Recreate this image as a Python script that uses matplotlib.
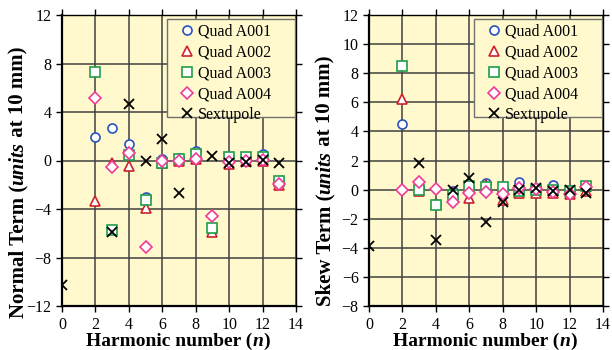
import numpy as np
import matplotlib
matplotlib.use("Agg")
import matplotlib.pyplot as plt
from matplotlib.patches import Rectangle

plt.rcParams['font.family'] = ['Liberation Serif', 'DejaVu Serif']

# harmonic numbers
n_quad = [2, 3, 4, 5, 6, 7, 8, 9, 10, 11, 12, 13]
n_sext = [0, 3, 4, 5, 6, 7, 9, 10, 11, 12, 13]
n_sext_skew = [0, 3, 4, 5, 6, 7, 8, 9, 10, 11, 12, 13]

# normal terms (units at 10 mm)
norm_a001 = [1.9, 2.7, 1.35, -3.0, 0.1, 0.2, 0.8, -5.7, 0.2, 0.2, 0.55, -1.8]
norm_a002 = [-3.3, -0.2, -0.45, -3.9, -0.2, 0.0, 0.1, -5.9, -0.3, 0.0, 0.0, -2.0]
norm_a003 = [7.3, -5.7, 0.45, -3.25, -0.2, 0.1, 0.5, -5.6, 0.25, 0.3, 0.3, -1.7]
norm_a004 = [5.15, -0.5, 0.6, -7.1, -0.08, 0.0, 0.15, -4.6, -0.1, 0.0, 0.05, -1.9]
norm_sext = [-10.3, -5.9, 4.65, 0.0, 1.75, -2.7, 0.4, -0.2, -0.1, 0.05, -0.2]

# skew terms (units at 10 mm)
skew_a001 = [4.5, 0.1, -1.0, -0.1, 0.1, 0.45, 0.1, 0.5, 0.1, 0.3, 0.0, 0.1]
skew_a002 = [6.2, -0.1, -1.0, -0.2, -0.55, 0.3, -0.7, -0.2, -0.2, -0.2, -0.3, -0.1]
skew_a003 = [8.5, 0.0, -1.05, -0.4, 0.25, 0.15, 0.2, -0.1, -0.05, -0.05, -0.1, 0.25]
skew_a004 = [0.0, 0.55, 0.05, -0.85, -0.2, -0.15, -0.3, 0.1, 0.05, -0.15, -0.3, 0.2]
skew_sext = [-3.9, 1.85, -3.45, 0.0, 0.8, -2.2, -0.85, 0.0, 0.1, -0.1, 0.0, -0.2]

labels = ["Quad A001", "Quad A002", "Quad A003", "Quad A004", "Sextupole"]

bg = '#FFF9CD'
W, H = 612, 350

fig = plt.figure(figsize=(6.12, 3.5), dpi=100)
ax1 = fig.add_axes([62/W, 1-306/H, 234/W, 291/H])
ax2 = fig.add_axes([369/W, 1-306/H, 234/W, 291/H])
renderer = fig.canvas.get_renderer()


def rich_text(cx, cy, parts, vertical=False, size=14):
    # place bold text pieces (some italic) centred at (cx, cy) in pixels
    texts = []
    for s, style in parts:
        if vertical:
            t = fig.text(0, 0, s, fontsize=size, fontweight='bold', fontstyle=style,
                         rotation=90, ha='center', va='bottom')
        else:
            t = fig.text(0, 0, s, fontsize=size, fontweight='bold', fontstyle=style,
                         ha='left', va='center')
        texts.append(t)
    sizes = []
    for t in texts:
        bb = t.get_window_extent(renderer)
        sizes.append(bb.height if vertical else bb.width)
    pos = (cy if vertical else cx) - sum(sizes) / 2
    for t, sz in zip(texts, sizes):
        if vertical:
            t.set_position((cx / W, pos / H))
        else:
            t.set_position((pos / W, cy / H))
        pos += sz


def draw(ax, a1, a2, a3, a4, sx, nsx, ylim, yticks):
    ax.set_facecolor(bg)
    ax.plot(n_quad, a1, 'o', ms=6.5, mfc='white', mec='#2A52BE', mew=1.2, label=labels[0], zorder=3)
    ax.plot(n_quad, a2, '^', ms=7, mfc='white', mec='#D0202A', mew=1.2, label=labels[1], zorder=4)
    ax.plot(n_quad, a3, 's', ms=7, mfc='white', mec='#1E9E4A', mew=1.2, label=labels[2], zorder=5)
    ax.plot(n_quad, a4, 'D', ms=6, mfc='white', mec='#F03A9A', mew=1.2, label=labels[3], zorder=6)
    ax.plot(nsx, sx, 'x', ms=7, color='black', mew=1.3, label=labels[4], zorder=7)
    ax.set_xlim(0, 14)
    ax.set_ylim(*ylim)
    ax.set_xticks(range(0, 15, 2))
    ax.set_yticks(yticks)
    ax.grid(True, color='#404040', lw=1.1)
    ax.set_axisbelow(True)
    for s in ax.spines.values():
        s.set_linewidth(1.0)
    ax.spines['left'].set_linewidth(1.6)
    ax.spines['bottom'].set_linewidth(1.6)
    ax.tick_params(labelsize=11.5, direction='out', length=4, width=1, top=True, right=True)
    ax.tick_params(axis='x', pad=4)
    # legend frame drawn as a plain box
    ax.add_patch(Rectangle((0.447, 0.649), 0.549, 0.337, transform=ax.transAxes,
                           facecolor=bg, edgecolor='#707070', lw=1.0, zorder=8))
    leg = ax.legend(loc='upper left', bbox_to_anchor=(0.5, 0.97), fontsize=11.5,
                    frameon=False, handletextpad=0.2, handlelength=1.0, borderpad=0,
                    labelspacing=0.3, borderaxespad=0)
    leg.set_zorder(9)


draw(ax1, norm_a001, norm_a002, norm_a003, norm_a004, norm_sext, n_sext,
     (-12, 12), range(-12, 13, 4))
draw(ax2, skew_a001, skew_a002, skew_a003, skew_a004, skew_sext, n_sext_skew,
     (-8, 12), range(-8, 13, 2))

rich_text(178, H - 341, [('Harmonic number (', 'normal'), ('n', 'italic'), (')', 'normal')])
rich_text(485, H - 341, [('Harmonic number (', 'normal'), ('n', 'italic'), (')', 'normal')])
rich_text(18, H - 182, [('Normal Term (', 'normal'), ('units', 'italic'), (' at 10 mm)', 'normal')],
          vertical=True, size=15)
rich_text(325, H - 181, [('Skew Term (', 'normal'), ('units', 'italic'), (' at 10 mm)', 'normal')],
          vertical=True, size=15)

fig.savefig('out.png', dpi=100)
